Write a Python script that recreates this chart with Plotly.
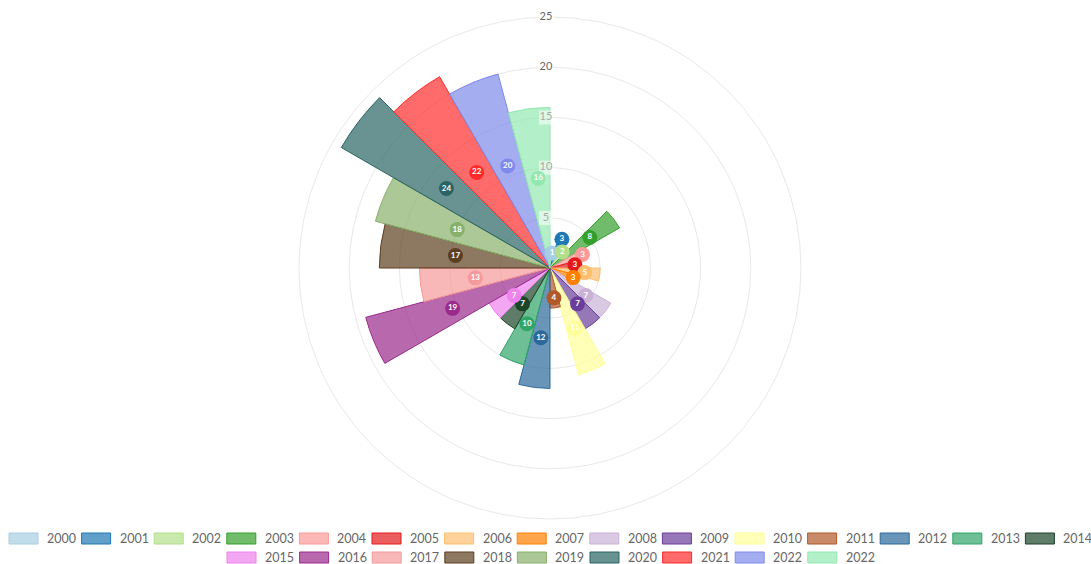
import math
import plotly.graph_objects as go

years = ["2000", "2001", "2002", "2003", "2004", "2005", "2006", "2007", "2008", "2009",
         "2010", "2011", "2012", "2013", "2014", "2015", "2016", "2017", "2018", "2019",
         "2020", "2021", "2022", "2022"]
values = [1, 3, 2, 8, 3, 3, 5, 3, 7, 7,
          11, 4, 12, 10, 7, 7, 19, 13, 17, 18,
          24, 22, 20, 16]
colors = ["#a6cee3", "#1f78b4", "#b2df8a", "#33a02c", "#fb9a99", "#e31a1c", "#fdbf6f", "#ff7f00",
          "#cab2d6", "#6a3d9a", "#ffff99", "#b15928", "#2a699a", "#31a468", "#1b4528", "#ee82ee",
          "#9a2a8c", "#f59a9a", "#5c3e20", "#88b06a", "#2a6464", "#ff2b2b", "#7f8aeb", "#93e8b2"]
radial_ticks = [5, 10, 15, 20, 25]

W, H = 1091, 564
cx, cy, R = 550, 268, 251
RMAX = 25
PX = R / RMAX


def rgba(hexc, a):
    h = hexc.lstrip("#")
    r, g, b = int(h[0:2], 16), int(h[2:4], 16), int(h[4:6], 16)
    return f"rgba({r},{g},{b},{a})"


n = len(values)
step = 360 / n
thetas = [step / 2 + i * step for i in range(n)]

# badge radii: middle of the bar, nudged outward where neighbours collide
badge_r = [v / 2 + 1.0 for v in values]


def px(i):
    a = math.radians(thetas[i])
    return (badge_r[i] * PX * math.sin(a), -badge_r[i] * PX * math.cos(a))


for _ in range(5):
    for i in range(n):
        j = (i + 1) % n
        while True:
            (x1, y1), (x2, y2) = px(i), px(j)
            if math.hypot(x1 - x2, y1 - y2) >= 11.5:
                break
            k = i if values[i] >= values[j] else j
            badge_r[k] += 0.2

fig = go.Figure()

for i in range(n):
    fig.add_trace(go.Barpolar(
        r=[values[i]], theta=[thetas[i]], width=[step], name=years[i],
        marker=dict(color=rgba(colors[i], 0.7), line=dict(color=colors[i], width=1)),
        showlegend=False))

# radial tick labels (slightly left of the vertical axis, like the reference)
tick_theta = [-math.degrees(math.atan2(4, t * PX)) for t in radial_ticks]
tick_col = ["#a8a8a8" if t <= 15 else "#666666" for t in radial_ticks]
tick_bg = ["rgba(255,255,255,0.55)" if t <= 15 else "white" for t in radial_ticks]
fig.add_trace(go.Scatterpolar(
    r=radial_ticks, theta=tick_theta, mode="markers+text",
    text=[str(t) for t in radial_ticks], textposition="middle center",
    marker=dict(symbol="square", size=14, color=tick_bg, line=dict(width=0)),
    textfont=dict(family="Lato", size=11, color=tick_col),
    hoverinfo="skip", showlegend=False))

# value badges
fig.add_trace(go.Scatterpolar(
    r=badge_r, theta=thetas, mode="markers+text",
    text=[str(v) for v in values], textposition="middle center",
    marker=dict(symbol="circle", size=15, color=colors, line=dict(width=0)),
    textfont=dict(family="Lato", size=8, color="white", weight="bold"),
    hoverinfo="skip", showlegend=False))

# manual legend
shapes = []
annotations = []
pitch = 72.6
row1_x0, row2_x0 = 9, 227
for i in range(n):
    if i < 15:
        x0 = row1_x0 + i * pitch
        yc = 538.5
    else:
        x0 = row2_x0 + (i - 15) * pitch
        yc = 557.5
    shapes.append(dict(type="rect", xref="paper", yref="paper",
                       x0=x0 / W, x1=(x0 + 29) / W,
                       y0=1 - (yc + 5.5) / H, y1=1 - (yc - 5.5) / H,
                       fillcolor=rgba(colors[i], 0.7), line=dict(color=colors[i], width=1)))
    annotations.append(dict(xref="paper", yref="paper", x=(x0 + 36) / W, y=1 - yc / H,
                            xanchor="left", yanchor="middle", showarrow=False,
                            text=years[i], font=dict(family="Lato", size=12.5, color="#666666")))

fig.update_layout(
    width=W, height=H,
    margin=dict(l=0, r=0, t=0, b=0),
    paper_bgcolor="white", plot_bgcolor="white",
    showlegend=False,
    polar=dict(
        domain=dict(x=[(cx - R) / W, (cx + R) / W], y=[1 - (cy + R) / H, 1 - (cy - R) / H]),
        bgcolor="white",
        bargap=0,
        radialaxis=dict(range=[0, RMAX], tickvals=radial_ticks, showticklabels=False,
                        ticks="", showline=False, gridcolor="#e8e8e8", gridwidth=1,
                        layer="below traces"),
        angularaxis=dict(direction="clockwise", rotation=90, showticklabels=False,
                         ticks="", showgrid=False, showline=True, linecolor="#e8e8e8",
                         layer="below traces"),
    ),
    shapes=shapes,
    annotations=annotations,
)

fig.write_html("out.html")
